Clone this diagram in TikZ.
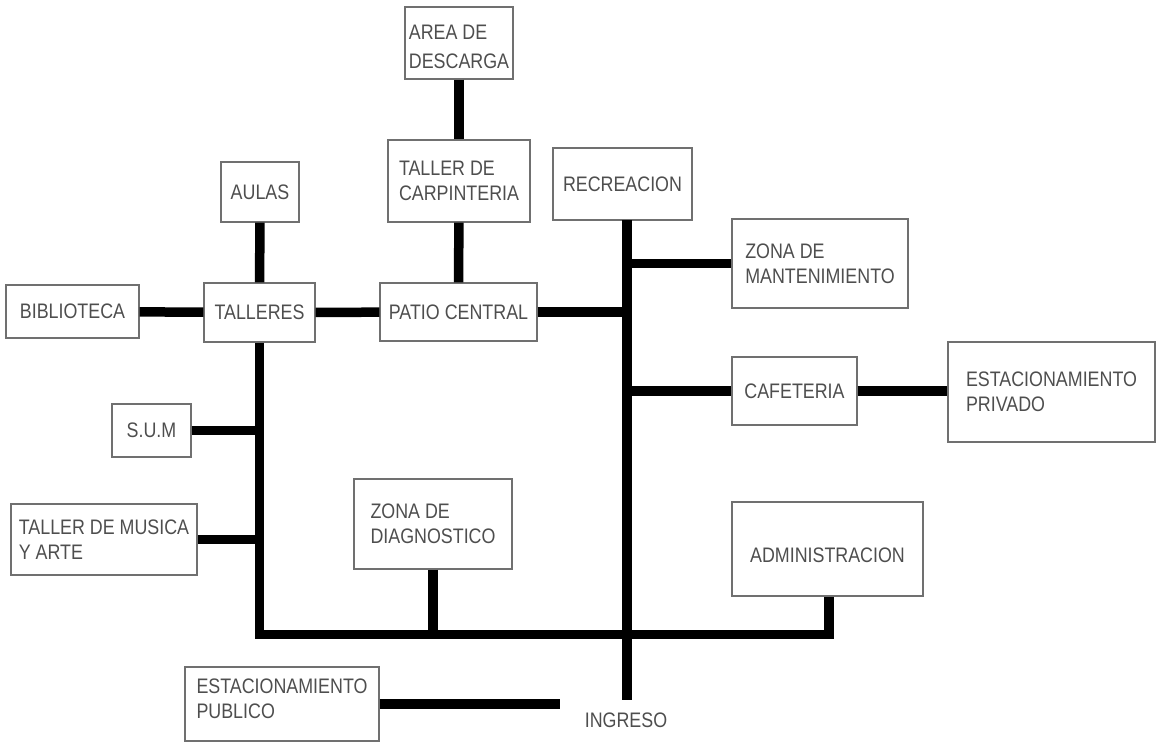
\documentclass[tikz,border=0pt]{standalone}
\usepackage{fontspec}
\setmainfont[FakeStretch=0.85]{Liberation Sans}
\usepackage{xcolor}
\usepackage{tikz}
\usetikzlibrary{positioning}
\definecolor{boxline}{RGB}{112,112,112}
\definecolor{labeltext}{RGB}{78,78,78}
\tikzset{
    zone/.style={rectangle, draw=boxline, line width=1.2pt, inner sep=0pt, text centered, align=left, text=labeltext, font=\fontsize{21}{25}\selectfont},
    tag/.style={inner sep=0pt, text=labeltext, font=\fontsize{21}{25}\selectfont},
    link/.style={line width=9.5pt, black}
}
\begin{document}
\begin{tikzpicture}[x=1pt, y=-1pt]
    \useasboundingbox (0,0) rectangle (1156,742);

    % Zones
    \node[zone, minimum width=108pt, minimum height=72pt, font=\fontsize{21}{29}\selectfont] (area) at (459,43) {\rule{0pt}{22pt}AREA DE\\DESCARGA};
    \node[zone, minimum width=142pt, minimum height=82pt] (carpinteria) at (459,181) {TALLER DE\\CARPINTERIA};
    \node[zone, minimum width=78pt, minimum height=60pt] (aulas) at (260,192) {AULAS};
    \node[zone, minimum width=139pt, minimum height=72pt] (recreacion) at (622.5,184) {RECREACION};
    \node[zone, minimum width=176pt, minimum height=89pt] (mantenimiento) at (820,263.5) {ZONA DE\\MANTENIMIENTO};
    \node[zone, minimum width=133pt, minimum height=53pt] (biblioteca) at (72.5,311.5) {BIBLIOTECA};
    \node[zone, minimum width=111pt, minimum height=59pt] (talleres) at (259.5,312.5) {TALLERES};
    \node[zone, minimum width=157pt, minimum height=58pt] (patio) at (458.5,312) {PATIO CENTRAL};
    \node[zone, minimum width=125pt, minimum height=68pt] (cafeteria) at (794.5,391) {CAFETERIA};
    \node[zone, minimum width=207pt, minimum height=100pt] (privado) at (1051.5,392) {ESTACIONAMIENTO\\PRIVADO};
    \node[zone, minimum width=79pt, minimum height=53pt] (sum) at (151.5,430.5) {S.U.M};
    \node[zone, minimum width=186pt, minimum height=71pt] (musica) at (104,539.5) {TALLER DE MUSICA\\Y ARTE};
    \node[zone, minimum width=158pt, minimum height=90pt] (diagnostico) at (433,524) {ZONA DE\\DIAGNOSTICO};
    \node[zone, minimum width=191pt, minimum height=94pt, text height=27pt] (administracion) at (827.5,549) {ADMINISTRACION};
    \node[zone, minimum width=194pt, minimum height=74pt] (publico) at (282,704) {};
    \node[tag, align=left, anchor=north] (publicotext) at ([yshift=-12pt]publico.north) {ESTACIONAMIENTO\\PUBLICO};
    \node[tag] (ingreso) at (626,720) {INGRESO};

    % Junctions
    \coordinate (trunktop) at (627,220);
    \coordinate (trunkend) at (627,700);
    \coordinate (base) at (627,634.5);
    \coordinate (publicoend) at (560,704);

    % Links
    \draw[link] (area) -- (carpinteria);
    \draw[link] (carpinteria) -- (patio);
    \draw[link] (aulas) -- (talleres);
    \draw[link] (biblioteca) -- (talleres);
    \draw[link] (talleres) -- (patio);
    \draw[link] (patio.east) -- (patio.east -| trunktop);
    \draw[link] (trunktop) -- (trunkend);
    \draw[link] (mantenimiento.west -| trunktop) -- (mantenimiento.west);
    \draw[link] (cafeteria.west -| trunktop) -- (cafeteria.west);
    \draw[link] (cafeteria.east) -- (cafeteria.east -| privado.west);
    \draw[link] (talleres.south) |- (base) -| ([xshift=1.5pt]administracion.south);
    \draw[link] (sum.east) -- (sum.east -| talleres.south);
    \draw[link] (musica.east) -- (musica.east -| talleres.south);
    \draw[link] (diagnostico.south) -- (diagnostico.south |- base);
    \draw[link] (publico.east) -- (publicoend);
\end{tikzpicture}
\end{document}
